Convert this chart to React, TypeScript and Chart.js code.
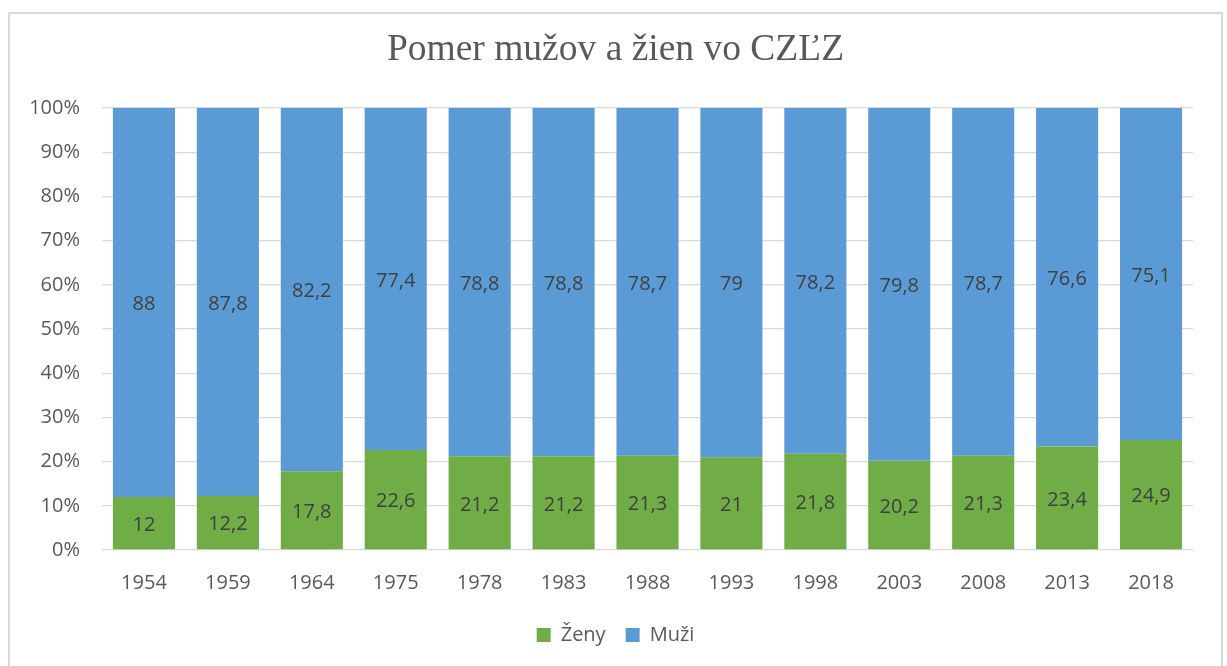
import React, { useEffect, useRef } from "react";
import { Chart, registerables } from "chart.js";

Chart.register(...registerables);

const titleText = "Pomer mužov a žien vo CZĽZ";
const years = ["1954", "1959", "1964", "1975", "1978", "1983", "1988", "1993", "1998", "2003", "2008", "2013", "2018"];
const zeny = [12, 12.2, 17.8, 22.6, 21.2, 21.2, 21.3, 21, 21.8, 20.2, 21.3, 23.4, 24.9];
const muzi = [88, 87.8, 82.2, 77.4, 78.8, 78.8, 78.7, 79, 78.2, 79.8, 78.7, 76.6, 75.1];
const seriesNames = ["Ženy", "Muži"];
const seriesColors = ["#70AD47", "#5B9BD5"];

const SANS = "'Open Sans', 'Noto Sans', sans-serif";

const barLabels = {
  id: "barLabels",
  afterDatasetsDraw(chart: any) {
    const ctx = chart.ctx;
    ctx.save();
    ctx.font = `20px ${SANS}`;
    ctx.fillStyle = "#404040";
    ctx.textAlign = "center";
    ctx.textBaseline = "middle";
    chart.data.datasets.forEach((ds: any, i: number) => {
      const meta = chart.getDatasetMeta(i);
      meta.data.forEach((el: any, j: number) => {
        const v = ds.data[j];
        const p = el.getProps(["x", "y", "base"], true);
        ctx.fillText(String(v).replace(".", ","), p.x, (p.y + p.base) / 2 + 2);
      });
    });
    ctx.restore();
  },
};

// centre title and legend over the whole framed box, as the original does
const recentre = {
  id: "recentre",
  afterLayout(chart: any) {
    if (chart.titleBlock) chart.titleBlock.left += 28;
    if (chart.legend) chart.legend.left += 28;
  },
};

export default function App() {
  const ref = useRef<HTMLCanvasElement | null>(null);
  useEffect(() => {
    if (!ref.current) return;
    const chart = new Chart(ref.current, {
      type: "bar",
      data: {
        labels: years,
        datasets: [
          { label: seriesNames[0], data: zeny, backgroundColor: seriesColors[0], borderWidth: 0 },
          { label: seriesNames[1], data: muzi, backgroundColor: seriesColors[1], borderWidth: 0 },
        ],
      },
      options: {
        animation: false,
        responsive: true,
        maintainAspectRatio: false,
        datasets: { bar: { categoryPercentage: 1, barPercentage: 0.74 } },
        layout: { padding: { top: 14, right: 28, left: 0, bottom: 11 } },
        plugins: {
          title: {
            display: true,
            text: titleText,
            color: "#595959",
            font: { family: "'Liberation Serif', 'Times New Roman', serif", size: 37.5, weight: "normal" },
            padding: { top: 0, bottom: 35 },
          },
          legend: {
            position: "bottom",
            labels: {
              color: "#595959",
              font: { family: SANS, size: 20 },
              boxWidth: 14,
              boxHeight: 14,
              padding: 20,
            },
          },
          tooltip: { enabled: false },
        },
        scales: {
          x: {
            stacked: true,
            grid: { display: false, drawTicks: false },
            border: { display: false },
            ticks: { color: "#595959", font: { family: SANS, size: 20 }, padding: 21 },
            afterFit: (s: any) => { s.height = 55; },
          },
          y: {
            stacked: true,
            min: 0,
            max: 100,
            grid: { color: "#d9d9d9", lineWidth: 1.3, drawTicks: false },
            border: { display: false },
            ticks: {
              stepSize: 10,
              color: "#595959",
              font: { family: SANS, size: 20 },
              padding: 22,
              callback: (v: any) => `${v}%`,
            },
            afterFit: (s: any) => { s.width = 92; },
          },
        },
      },
      plugins: [barLabels, recentre],
    });
    return () => chart.destroy();
  }, []);

  return (
    <div
      style={{
        position: "absolute",
        left: 8,
        top: 12,
        width: 1215,
        height: 654,
        boxSizing: "border-box",
        borderTop: "2px solid #d9d9d9",
        borderLeft: "2px solid #d9d9d9",
        borderRight: "2px solid #d9d9d9",
        background: "#fff",
      }}
    >
      <canvas ref={ref} />
    </div>
  );
}
